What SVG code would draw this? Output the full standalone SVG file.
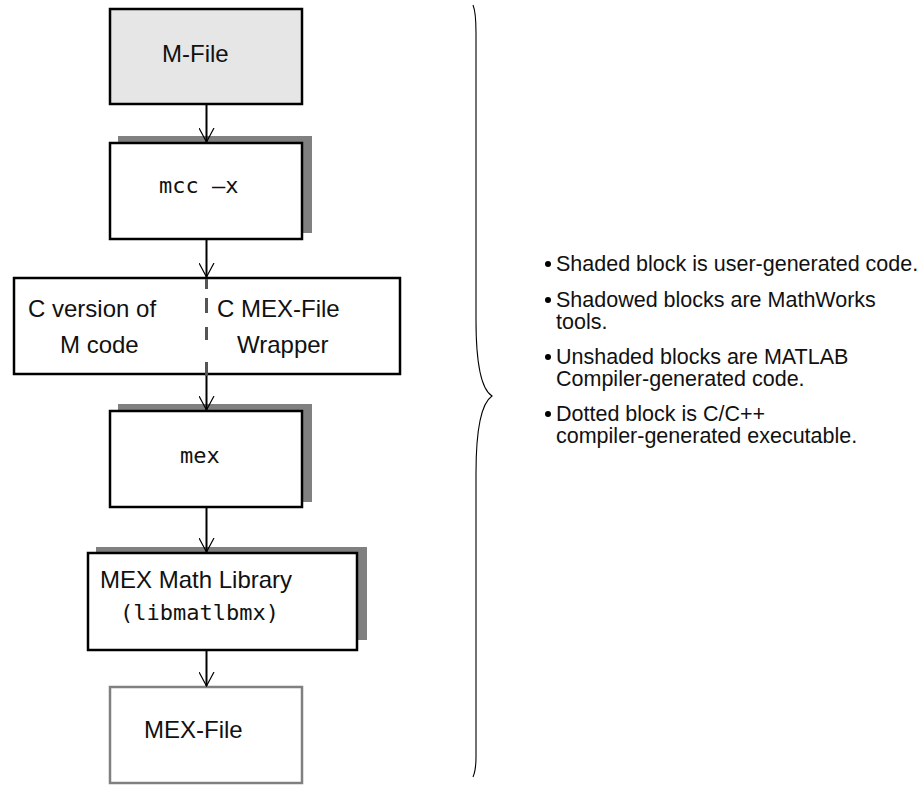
<svg xmlns="http://www.w3.org/2000/svg" width="924" height="785" viewBox="0 0 924 785">
<defs>
<style>
.box{fill:#fff;stroke:#000;stroke-width:2.5}
.shaded{fill:#e6e6e6;stroke:#000;stroke-width:2.5}
.dotted{fill:#fff;stroke:#808080;stroke-width:2.5}
.shadow{fill:#808080;stroke:none}
.lbl{font-family:"Liberation Sans",Arial,sans-serif;font-size:24px;fill:#111}
.mono{font-family:"DejaVu Sans Mono","Liberation Mono",monospace;font-size:22px;fill:#111}
.bul{font-family:"Liberation Sans",Arial,sans-serif;font-size:21.5px;fill:#111}
.edge{stroke:#000;stroke-width:2;fill:none}
.dash{stroke:#555;stroke-width:3;fill:none}
.brace{stroke:#000;stroke-width:1.1;fill:none}
</style>
<marker id="arr" viewBox="0 0 15 16" refX="14.5" refY="8" markerWidth="15" markerHeight="16" markerUnits="userSpaceOnUse" orient="auto">
<path d="M0.5,0.5 L14.5,8 L0.5,15.5" fill="none" stroke="#000" stroke-width="1.2"/>
</marker>
</defs>

<g id="m-file">
<rect class="shaded" x="110" y="9" width="192" height="95"/>
<text class="lbl" x="162" y="62">M-File</text>
</g>

<g id="mcc">
<rect class="shadow" x="118" y="136" width="194" height="97"/>
<rect class="box" x="110" y="143" width="192" height="96"/>
<text class="mono" x="159" y="193">mcc –x</text>
</g>

<g id="c-code">
<rect class="box" x="14" y="278" width="386" height="96"/>
<text class="lbl" x="28" y="317">C version of</text>
<text class="lbl" x="60" y="353">M code</text>
<text class="lbl" x="217" y="317">C MEX-File</text>
<text class="lbl" x="237" y="353">Wrapper</text>
</g>

<g id="mex">
<rect class="shadow" x="118" y="404" width="194" height="98"/>
<rect class="box" x="110" y="411" width="192" height="96"/>
<text class="mono" x="180" y="463">mex</text>
</g>

<g id="mex-math-library">
<rect class="shadow" x="96" y="547" width="271" height="93"/>
<rect class="box" x="88" y="553" width="269" height="97"/>
<text class="lbl" x="100" y="588">MEX Math Library</text>
<text class="mono" x="120" y="620">(libmatlbmx)</text>
</g>

<g id="mex-file">
<rect class="dotted" x="110" y="687" width="192" height="96"/>
<text class="lbl" x="144" y="738">MEX-File</text>
</g>

<g id="connectors">
<line class="edge" x1="206.5" y1="105" x2="206.5" y2="142" marker-end="url(#arr)"/>
<line class="edge" x1="206.5" y1="240" x2="206.5" y2="277" marker-end="url(#arr)"/>
<path class="dash" d="M206.5,279V289 M206.5,298V313 M206.5,327V340 M206.5,362V376"/>
<line class="edge" x1="206.5" y1="376" x2="206.5" y2="410" marker-end="url(#arr)"/>
<line class="edge" x1="206.5" y1="508" x2="206.5" y2="552" marker-end="url(#arr)"/>
<line class="edge" x1="206.5" y1="651" x2="206.5" y2="686" marker-end="url(#arr)"/>
</g>

<g id="brace">
<path class="brace" d="M473,5 Q476,12 476,33 V320 Q476,386 492,396 Q476,407 476,473 V757 Q476,770 473,777"/>
</g>

<g id="legend">
<circle cx="548" cy="264" r="3"/>
<text class="bul" x="556" y="271">Shaded block is user-generated code.</text>
<circle cx="548" cy="300" r="3"/>
<text class="bul" x="556" y="307">Shadowed blocks are MathWorks</text>
<text class="bul" x="556" y="329">tools.</text>
<circle cx="548" cy="357" r="3"/>
<text class="bul" x="556" y="364">Unshaded blocks are MATLAB</text>
<text class="bul" x="556" y="386">Compiler-generated code.</text>
<circle cx="548" cy="414" r="3"/>
<text class="bul" x="556" y="421">Dotted block is C/C++</text>
<text class="bul" x="556" y="443">compiler-generated executable.</text>
</g>
</svg>
